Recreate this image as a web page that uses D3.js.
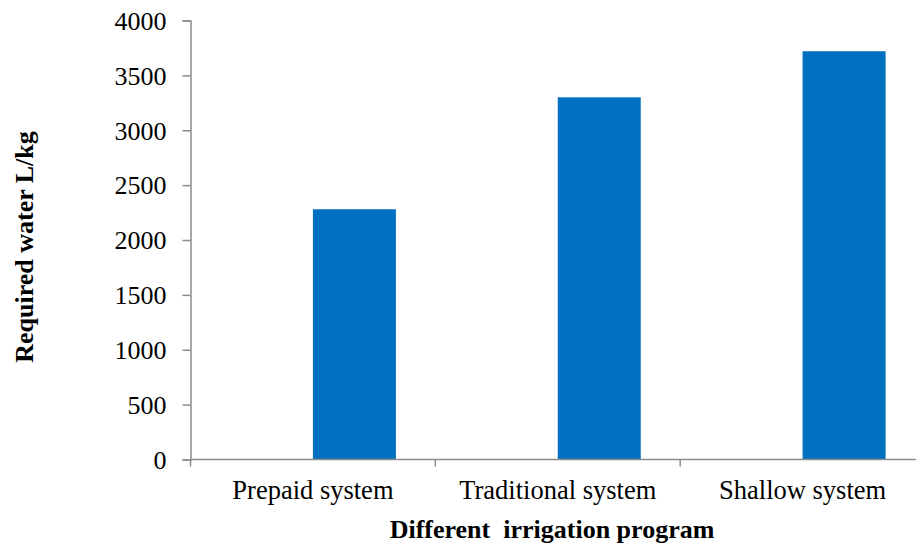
<!DOCTYPE html>
<html>
<head>
<meta charset="utf-8">
<script src="https://cdn.jsdelivr.net/npm/d3@7"></script>
<style>
  html, body { margin: 0; padding: 0; background: #fff; }
  svg { display: block; }
  text { font-family: "Liberation Serif", "Times New Roman", serif; fill: #000; }
</style>
</head>
<body>
<svg id="chart" width="916" height="546"></svg>
<script>
// Water requirement per irrigation program
const categories = ["Prepaid system", "Traditional system", "Shallow system"];
const requiredWater = [2280, 3300, 3720];
const yTicks = [0, 500, 1000, 1500, 2000, 2500, 3000, 3500, 4000];
const xTitle = "Different\u00a0 irrigation program";
const yTitle = "Required water L/kg";

const svg = d3.select("#chart");
const plotLeft = 190.5, plotRight = 925, plotTop = 20.5, plotBottom = 459.5;

const x = d3.scaleBand().domain(categories).range([plotLeft, plotRight]).padding(0);
// two slots per category; the series occupies the second slot
const slot = d3.scaleBand().domain([0, 1]).range([0, x.bandwidth()])
  .paddingInner(0).paddingOuter(0.475);
const y = d3.scaleLinear().domain([0, 4000]).range([plotBottom, plotTop]);

const axisColor = "#8c8c8c";

// bars
svg.append("g").selectAll("rect")
  .data(categories.map((c, i) => ({ c, v: requiredWater[i] })))
  .join("rect")
  .attr("x", d => x(d.c) + slot(1))
  .attr("width", slot.bandwidth())
  .attr("y", d => y(d.v))
  .attr("height", d => y(0) - y(d.v))
  .attr("fill", "#0070c0");

// y axis
const yAxis = svg.append("g")
  .attr("transform", `translate(${plotLeft},0)`)
  .call(d3.axisLeft(y).tickValues(yTicks).tickSize(8).tickPadding(16).tickFormat(d3.format("d")));
yAxis.select(".domain").attr("stroke", axisColor).attr("stroke-width", 1.5);
yAxis.selectAll(".tick line").attr("stroke", axisColor).attr("stroke-width", 1.5);
yAxis.selectAll(".tick text").attr("font-size", 26).attr("font-family", "Liberation Serif").attr("fill", "#000").attr("dy", "0.34em");

// x axis line with category separators
const xg = svg.append("g");
xg.append("line")
  .attr("x1", plotLeft).attr("x2", plotRight).attr("y1", y(0)).attr("y2", y(0))
  .attr("stroke", axisColor).attr("stroke-width", 1.5);
xg.selectAll("line.sep")
  .data(categories)
  .join("line")
  .attr("class", "sep")
  .attr("x1", d => x(d)).attr("x2", d => x(d))
  .attr("y1", y(0)).attr("y2", y(0) + 7)
  .attr("stroke", axisColor).attr("stroke-width", 1.5);
xg.selectAll("text")
  .data(categories)
  .join("text")
  .attr("x", d => x(d) + x.bandwidth() / 2)
  .attr("y", 499)
  .attr("text-anchor", "middle")
  .attr("font-size", 26.5)
  .text(d => d);

// axis titles
svg.append("text")
  .attr("x", 552).attr("y", 538)
  .attr("text-anchor", "middle")
  .attr("font-size", 26).attr("font-weight", "bold")
  .text(xTitle);

svg.append("text")
  .attr("transform", "translate(33,247) rotate(-90)")
  .attr("text-anchor", "middle")
  .attr("font-size", 26).attr("font-weight", "bold")
  .text(yTitle);
</script>
</body>
</html>
